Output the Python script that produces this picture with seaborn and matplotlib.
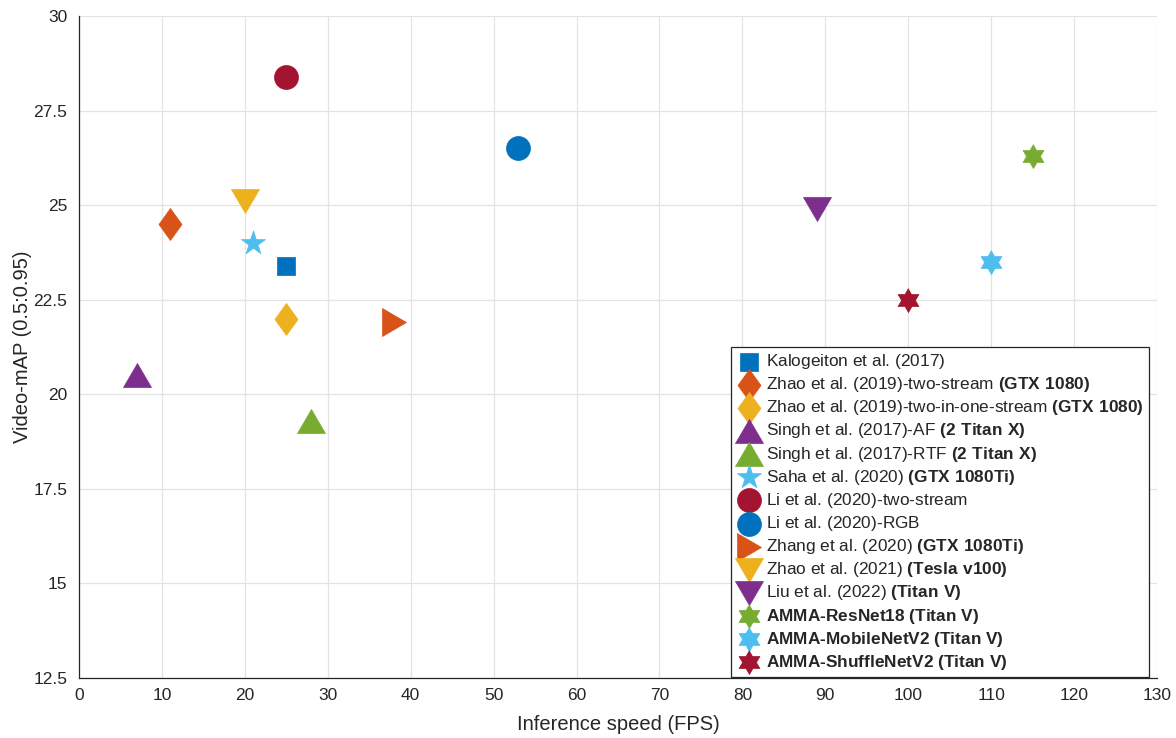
import numpy as np
import seaborn as sns
import matplotlib.pyplot as plt
from matplotlib.ticker import FuncFormatter, MultipleLocator

# values
methods = [
    r"Kalogeiton et al. (2017)$\ $",
    r"Zhao et al. (2019)-two-stream $\bf{(GTX\ 1080)}$",
    r"Zhao et al. (2019)-two-in-one-stream $\bf{(GTX\ 1080)}$",
    r"Singh et al. (2017)-AF $\bf{(2\ Titan\ X)}$",
    r"Singh et al. (2017)-RTF $\bf{(2\ Titan\ X)}$",
    r"Saha et al. (2020) $\bf{(GTX\ 1080Ti)}$",
    r"Li et al. (2020)-two-stream$\ $",
    r"Li et al. (2020)-RGB$\ $",
    r"Zhang et al. (2020) $\bf{(GTX\ 1080Ti)}$",
    r"Zhao et al. (2021) $\bf{(Tesla\ v100)}$",
    r"Liu et al. (2022) $\bf{(Titan\ V)}$",
    r"AMMA-ResNet18 (Titan V)$\ $",
    r"AMMA-MobileNetV2 (Titan V)$\ $",
    r"AMMA-ShuffleNetV2 (Titan V)$\ $",
]
fps = [25, 11, 25, 7, 28, 21, 25, 53, 38, 20, 89, 115, 110, 100]
video_map = [23.4, 24.5, 22.0, 20.5, 19.3, 24.0, 28.4, 26.5, 21.9, 25.1, 24.9, 26.3, 23.5, 22.5]
bold_labels = methods[11:]

blue, orange, yellow, purple = '#0072BD', '#D95319', '#EDB120', '#7E2F8E'
green, cyan, red = '#77AC30', '#4DBEEE', '#A2142F'
colors = [blue, orange, yellow, purple, green, cyan, red, blue, orange, yellow, purple, green, cyan, red]

# marker shapes
diamond = [(0, 1), (0.72, 0), (0, -1), (-0.72, 0), (0, 1)]
tri_up = [(-1, -0.857), (1, -0.857), (0, 0.857), (-1, -0.857)]
tri_down = [(-1, 0.857), (1, 0.857), (0, -0.857), (-1, 0.857)]
tri_right = [(-0.857, -1), (-0.857, 1), (0.857, 0), (-0.857, -1)]
ang = np.pi / 2 + np.arange(12) * np.pi / 6
rad = np.where(np.arange(12) % 2 == 0, 1.0, 0.577)
hexagram = list(zip(rad * np.cos(ang), rad * np.sin(ang)))

markers = ['s', diamond, diamond, tri_up, tri_up, '*', 'o', 'o', tri_right, tri_down, tri_down,
           hexagram, hexagram, hexagram]
sizes = [174, 530, 530, 406, 406, 330, 298, 298, 406, 406, 406, 300, 300, 300]

sns.set_style("white")
plt.rcParams['font.family'] = ['Liberation Sans', 'DejaVu Sans']
plt.rcParams['mathtext.fontset'] = 'custom'
plt.rcParams['mathtext.rm'] = 'Liberation Sans'
plt.rcParams['mathtext.bf'] = 'Liberation Sans:bold'

fig = plt.figure(figsize=(11.76, 7.38), dpi=100)
ax = fig.add_axes([79 / 1176, 60 / 738, 1078 / 1176, 662 / 738])

for name, x, y, c, m, s in zip(methods, fps, video_map, colors, markers, sizes):
    sns.scatterplot(x=[x], y=[y], marker=m, s=s, color=c, edgecolor=c, linewidth=0.5,
                    label=name, ax=ax, zorder=3)

ax.set_xlim(0, 130)
ax.set_ylim(12.5, 30)
ax.xaxis.set_major_locator(MultipleLocator(10))
ax.yaxis.set_major_locator(MultipleLocator(2.5))
ax.yaxis.set_major_formatter(FuncFormatter(lambda v, p: f'{v:g}'))
ax.grid(True, color='#e3e3e3', linewidth=0.9)
ax.set_axisbelow(True)
sns.despine(ax=ax)
for sp in ['left', 'bottom']:
    ax.spines[sp].set_color('#262626')
    ax.spines[sp].set_linewidth(0.9)
ax.tick_params(direction='in', length=5, width=0.9, color='#262626', labelcolor='#262626',
               labelsize=12.5)
ax.tick_params(axis='x', pad=7)
ax.tick_params(axis='y', pad=8.5)
ax.set_xlabel("Inference speed (FPS)", fontsize=14.5, color='#262626', labelpad=9)
ax.set_ylabel("Video-mAP (0.5:0.95)", fontsize=14.5, color='#262626', labelpad=1)

leg = ax.legend(loc='lower right', bbox_to_anchor=(1149 / 1176, 61 / 738),
                bbox_transform=fig.transFigure, borderaxespad=0, fontsize=12.4,
                frameon=True, fancybox=False, edgecolor='#262626', framealpha=1,
                handlelength=1.55, handletextpad=0.2, borderpad=0.3, labelspacing=0.24,
                scatterpoints=1)
leg.get_frame().set_linewidth(0.9)
for t in leg.get_texts():
    if t.get_text() in bold_labels:
        t.set_fontweight('bold')

fig.savefig('out.png', dpi=100)
